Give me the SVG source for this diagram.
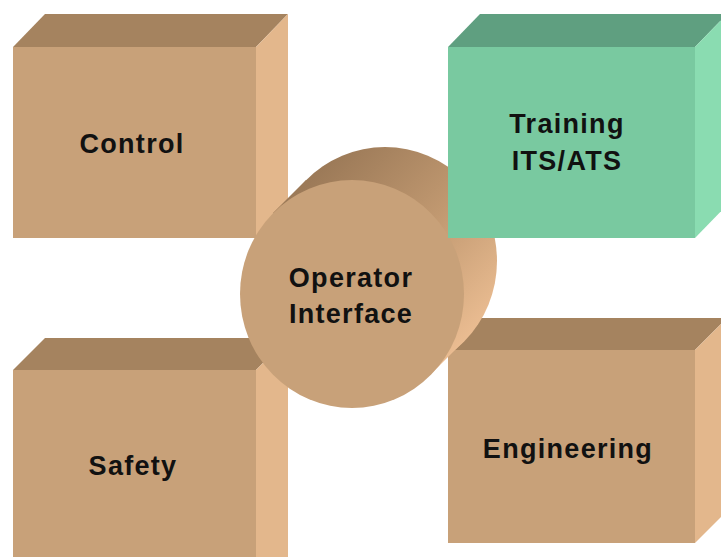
<svg xmlns="http://www.w3.org/2000/svg" width="721" height="557" viewBox="0 0 721 557">
<style>
.front{fill:#c8a179}
.top{fill:#a5835f}
.side{fill:#e3b78c}
.gfront{fill:#79c9a0}
.gtop{fill:#5f9f80}
.gside{fill:#8adcb1}
.lbl{font-family:"Liberation Sans",Arial,sans-serif;font-weight:bold;font-size:27px;letter-spacing:1.3px;fill:#111;text-anchor:middle}
</style>
<defs>
<linearGradient id="tube" gradientUnits="userSpaceOnUse" x1="300" y1="190" x2="460" y2="350">
<stop offset="0" stop-color="#9c7a58"/>
<stop offset="0.5" stop-color="#c09870"/>
<stop offset="1" stop-color="#ebbd92"/>
</linearGradient>
</defs>
<rect width="721" height="557" fill="#ffffff"/>
<g id="control">
<polygon class="top" points="13,47 45,14 288,14 256,47"/>
<polygon class="side" points="256,47 288,14 288,205 256,238"/>
<rect class="front" x="13" y="47" width="243" height="191"/>
<text class="lbl" x="132" y="153">Control</text>
</g>
<g id="safety">
<polygon class="top" points="13,370 45,338 288,338 256,370"/>
<polygon class="side" points="256,370 288,338 288,600 256,600"/>
<rect class="front" x="13" y="370" width="243" height="230"/>
<text class="lbl" x="133" y="475">Safety</text>
</g>
<g id="engineering">
<polygon class="top" points="448,350 480,318 727,318 695,350"/>
<polygon class="side" points="695,350 727,318 727,511 695,543"/>
<rect class="front" x="448" y="350" width="247" height="193"/>
<text class="lbl" x="568" y="458">Engineering</text>
</g>
<g id="operator-interface">
<ellipse cx="385" cy="261" rx="112" ry="114" fill="url(#tube)"/>
<polygon points="273,213 306,180 464,341 431,374" fill="url(#tube)"/>
<ellipse class="front" cx="352" cy="294" rx="112" ry="114"/>
<text class="lbl" x="351" y="287">Operator</text>
<text class="lbl" x="351" y="323">Interface</text>
</g>
<g id="training">
<polygon class="gtop" points="448,47 480,14 727,14 695,47"/>
<polygon class="gside" points="695,47 727,14 727,205 695,238"/>
<rect class="gfront" x="448" y="47" width="247" height="191"/>
<text class="lbl" x="567" y="133">Training</text>
<text class="lbl" x="567" y="170">ITS/ATS</text>
</g>
<g id="connectors"/>
</svg>
